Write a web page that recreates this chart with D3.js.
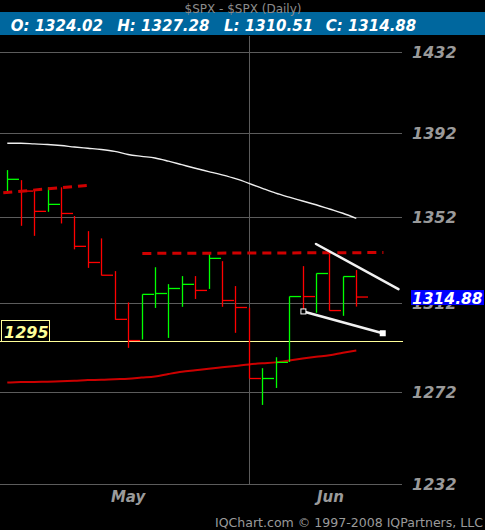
<!DOCTYPE html>
<html>
<head>
<meta charset="utf-8">
<script src="https://cdn.jsdelivr.net/npm/d3@7/dist/d3.min.js"></script>
<style>
  html, body { margin: 0; padding: 0; background: #000; }
  svg { display: block; }
  text { font-family: Verdana, 'DejaVu Sans', sans-serif; }
</style>
</head>
<body>
<div id="chart"></div>
<script>
//Datos
const dates = ['2012-05-07','2012-05-08','2012-05-09','2012-05-10','2012-05-11','2012-05-14','2012-05-15',
  '2012-05-16','2012-05-17','2012-05-18','2012-05-21','2012-05-22','2012-05-23','2012-05-24','2012-05-25',
  '2012-05-29','2012-05-30','2012-05-31','2012-06-01','2012-06-04','2012-06-05','2012-06-06','2012-06-07',
  '2012-06-08','2012-06-11','2012-06-12','2012-06-13'];
const highs = [1374.3,1369.5,1364.8,1366.1,1366.1,1352.5,1345.4,1342.0,1326.8,1312.4,1316.1,1328.6,1320.8,1324.5,
  1324.5,1335.0,1331.4,1319.9,1310.0,1282.7,1287.6,1315.1,1329.1,1325.7,1335.3,1324.3,1327.28];
const lows = [1363.8,1347.9,1343.2,1354.5,1349.0,1336.9,1328.3,1324.8,1304.5,1291.8,1295.6,1309.9,1296.3,1310.4,
  1314.0,1318.6,1310.4,1298.6,1278.1,1266.4,1273.9,1285.5,1308.4,1307.7,1308.7,1306.3,1310.51];
const closes = [1369.9,1364.3,1354.7,1358.0,1353.7,1338.3,1330.8,1324.9,1304.7,1295.1,1316.1,1316.5,1318.8,1320.7,
  1317.9,1332.7,1313.3,1310.1,1278.1,1278.1,1285.3,1315.1,1315.1,1325.7,1308.7,1324.3,1314.88];
// 1 = barra verde (sube), 0 = barra roja (baja)
const upDay = [1,0,0,1,0,0,0,0,0,0,1,1,1,1,0,1,0,0,0,1,1,1,0,1,0,1,0];

//Medias móviles
const maShort = [1387.2,1387.2,1386.9,1386.6,1386.1,1385.4,1384.8,1384.2,1383.3,1381.8,1380.9,1380.1,1378.6,1376.9,
  1375.2,1373.6,1372.0,1370.2,1368.0,1365.6,1363.3,1361.4,1359.6,1357.8,1355.8,1353.8,1351.4];
const maLong = [1276.3,1276.5,1276.6,1276.7,1276.9,1277.1,1277.4,1277.5,1277.8,1278.0,1278.5,1279.0,1280.1,1281.1,
  1281.8,1282.5,1283.1,1283.7,1284.4,1284.9,1285.3,1286.1,1287.0,1287.8,1288.5,1289.6,1290.6];

//Anotaciones: [índice de barra, precio]
const resistance1 = [[-0.3, 1363.5], [5.92, 1367.0]];
const resistance2 = [[10.06, 1335.0], [28.02, 1335.4]];
const trendUpper = [[23.0, 1339.4], [29.14, 1318.5]];
const trendLower = [[22.06, 1308.3], [27.97, 1298.4]];
const supportLevel = 1295;

//Eje y
const yTicks = [1232, 1272, 1312, 1352, 1392, 1432];
const monthNames = {4: 'May', 5: 'Jun'};

//Cabecera
const chartTitle = '$SPX - $SPX (Daily)';
const ohlcLabels = ['O: 1324.02', 'H: 1327.28', 'L: 1310.51', 'C: 1314.88'];
const lastClose = 1314.88;
const footer = 'IQChart.com \u00a9 1997-2008 IQPartners, LLC';

const width = 485, height = 530,
  plotRight = 402, axisX = 412,
  plotTop = 36, plotBottom = 484;

let svg = d3.select('#chart')
  .append('svg')
    .attr('width', width)
    .attr('height', height)
    .style('background', '#000');

let x = d3.scaleLinear()
  .domain([0, dates.length - 1])
  .range([7.3, 356.3]);

let y = d3.scaleLog()
  .domain([1232, 1432])
  .range([plotBottom, 52]);

let parse = d3.timeParse('%Y-%m-%d');
let parsed = dates.map(parse);

//Rejilla + etiquetas del eje
let yAxis = d3.axisRight(y)
  .tickValues(yTicks)
  .tickFormat(d3.format('d'))
  .tickSize(-plotRight)
  .tickPadding(axisX - plotRight);

let gAxis = svg.append('g')
  .attr('transform', 'translate(' + plotRight + ',0)')
  .call(yAxis);
gAxis.select('.domain').remove();
gAxis.selectAll('.tick line')
  .attr('stroke', '#5c5c5c')
  .attr('shape-rendering', 'crispEdges');
gAxis.selectAll('.tick text')
  .attr('fill', '#9a9a9a')
  .attr('font-size', '16px')
  .attr('font-weight', 'bold')
  .attr('font-style', 'italic');

//Meses
let monthStarts = [];
parsed.forEach(function(d, i) {
  if (i === 0 || d.getMonth() !== parsed[i - 1].getMonth()) monthStarts.push(i);
});

monthStarts.forEach(function(idx, k) {
  if (idx > 0) {
    svg.append('line')
      .attr('x1', Math.round(x(idx)) + 0.5).attr('x2', Math.round(x(idx)) + 0.5)
      .attr('y1', plotTop).attr('y2', plotBottom)
      .attr('stroke', '#5c5c5c');
  }
  let x0 = x(idx);
  let x1 = k < monthStarts.length - 1 ? x(monthStarts[k + 1]) : axisX;
  svg.append('text')
    .attr('x', (x0 + x1) / 2)
    .attr('y', 501.5)
    .attr('text-anchor', 'middle')
    .attr('fill', '#9a9a9a')
    .attr('font-size', '15px')
    .attr('font-weight', 'bold')
    .attr('font-style', 'italic')
    .text(monthNames[parsed[idx].getMonth()]);
});

//Soporte 1295
svg.append('line')
  .attr('x1', 0).attr('x2', 403)
  .attr('y1', Math.round(y(supportLevel)) + 0.5).attr('y2', Math.round(y(supportLevel)) + 0.5)
  .attr('stroke', '#ffff99');

//Medias
let line = d3.line()
  .x(function(d, i) { return x(i); })
  .y(function(d) { return y(d); })
  .curve(d3.curveMonotoneX);

svg.append('path')
  .datum(maShort)
  .attr('d', line)
  .attr('fill', 'none')
  .attr('stroke', '#eeeeee')
  .attr('stroke-width', 1.4);

svg.append('path')
  .datum(maLong)
  .attr('d', line)
  .attr('fill', 'none')
  .attr('stroke', '#cc0000')
  .attr('stroke-width', 2);

//Barras HLC
let bars = svg.append('g').selectAll('g')
  .data(dates)
  .enter()
  .append('g')
  .attr('stroke', function(d, i) { return upDay[i] ? '#00ff00' : '#ff0000'; })
  .attr('stroke-width', 1.3);

bars.append('line')
  .attr('x1', function(d, i) { return Math.round(x(i)) + 0.5; })
  .attr('x2', function(d, i) { return Math.round(x(i)) + 0.5; })
  .attr('y1', function(d, i) { return y(highs[i]); })
  .attr('y2', function(d, i) { return y(lows[i]); });

bars.append('line')
  .attr('x1', function(d, i) { return Math.round(x(i)) + 0.5; })
  .attr('x2', function(d, i) { return Math.round(x(i)) + 12; })
  .attr('y1', function(d, i) { return y(closes[i]); })
  .attr('y2', function(d, i) { return y(closes[i]); });

//Líneas dibujadas
let segment = d3.line()
  .x(function(d) { return x(d[0]); })
  .y(function(d) { return y(d[1]); });

[resistance1, resistance2].forEach(function(pts) {
  svg.append('path')
    .attr('d', segment(pts))
    .attr('fill', 'none')
    .attr('stroke', '#d00000')
    .attr('stroke-width', 3)
    .attr('stroke-dasharray', '9,6');
});

[trendUpper, trendLower].forEach(function(pts) {
  svg.append('path')
    .attr('d', segment(pts))
    .attr('fill', 'none')
    .attr('stroke', '#f0f0f0')
    .attr('stroke-width', 2.5)
    .attr('stroke-linecap', 'round');
});

svg.append('rect')
  .attr('x', x(trendLower[0][0]) - 2.5).attr('y', y(trendLower[0][1]) - 2.5)
  .attr('width', 5).attr('height', 5)
  .attr('fill', '#000').attr('stroke', '#fff').attr('stroke-width', 1);
svg.append('rect')
  .attr('x', x(trendLower[1][0]) - 3).attr('y', y(trendLower[1][1]) - 3)
  .attr('width', 6).attr('height', 6)
  .attr('fill', '#fff');

//Etiqueta 1295
svg.append('rect')
  .attr('x', 1.5).attr('y', Math.round(y(supportLevel)) - 20.5)
  .attr('width', 48).attr('height', 21)
  .attr('fill', '#000')
  .attr('stroke', '#ffff99');
svg.append('text')
  .attr('x', 4).attr('y', y(supportLevel) - 3)
  .attr('fill', '#ffff99')
  .attr('font-size', '16px')
  .attr('font-weight', 'bold')
  .attr('font-style', 'italic')
  .text(d3.format('d')(supportLevel));

//Último precio
svg.append('rect')
  .attr('x', 411).attr('y', y(lastClose) - 7)
  .attr('width', 73).attr('height', 15)
  .attr('fill', '#0000ff');
svg.append('text')
  .attr('x', 412).attr('y', y(lastClose) + 6.5)
  .attr('fill', '#fff')
  .attr('font-size', '15.5px')
  .attr('font-weight', 'bold')
  .attr('font-style', 'italic')
  .text(d3.format('.2f')(lastClose));

//Cabecera
svg.append('rect')
  .attr('x', 0).attr('y', 12)
  .attr('width', width).attr('height', 23)
  .attr('fill', '#00679e');

svg.append('text')
  .attr('x', 243).attr('y', 12.5)
  .attr('text-anchor', 'middle')
  .attr('fill', '#8c8c8c')
  .attr('font-size', '12px')
  .text(chartTitle);

const ohlcX = [10.7, 117.3, 224, 325.7];
svg.selectAll('.ohlc')
  .data(ohlcLabels)
  .enter()
  .append('text')
  .attr('class', 'ohlc')
  .attr('x', function(d, i) { return ohlcX[i]; })
  .attr('y', 30.5)
  .attr('fill', '#fff')
  .attr('font-size', '15px')
  .attr('font-weight', 'bold')
  .attr('font-style', 'italic')
  .text(function(d) { return d; });

//Pie
svg.append('text')
  .attr('x', 483).attr('y', 527)
  .attr('text-anchor', 'end')
  .attr('fill', '#9a9a9a')
  .attr('font-size', '12px')
  .attr('textLength', 268)
  .attr('lengthAdjust', 'spacingAndGlyphs')
  .text(footer);
</script>
</body>
</html>
